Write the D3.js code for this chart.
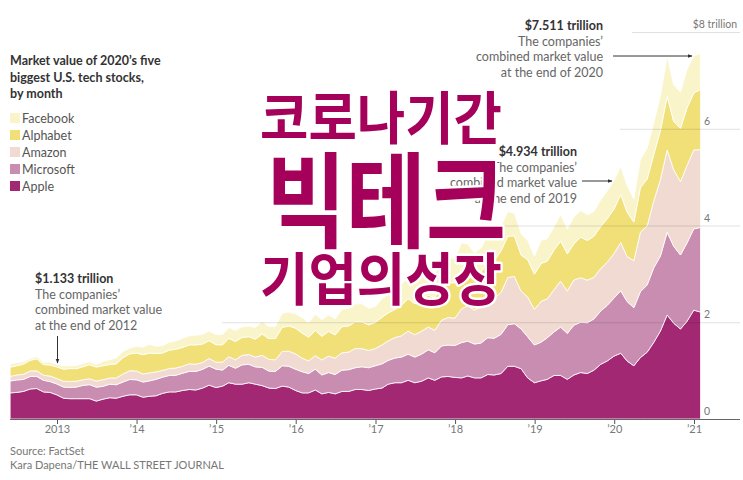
<!DOCTYPE html>
<html>
<head>
<meta charset="utf-8">
<script src="https://cdn.jsdelivr.net/npm/d3@7"></script>
<style>
  body { margin: 0; background: #fff; }
  svg text { font-family: Lato, "Noto Sans", sans-serif; }
  .title-ko { font-family: "Noto Sans CJK KR", sans-serif !important; font-weight: 700; fill: #a5005a;
              stroke: #fff; stroke-width: 5px; paint-order: stroke; stroke-linejoin: round; }
</style>
</head>
<body>
<svg id="drawing_region"></svg>
<script>
// monthly market value, trillions of dollars, end of May 2012 .. end of Jan 2021
const startMonth = new Date(2012, 4, 1);

const apple = [
  0.54,0.55,0.57,0.62,0.63,0.56,0.55,0.50,
  0.43,0.42,0.42,0.42,0.42,0.37,0.41,0.44,0.43,0.47,0.50,0.50,
  0.45,0.47,0.48,0.53,0.56,0.56,0.59,0.61,0.60,0.64,0.70,0.65,
  0.68,0.75,0.72,0.72,0.75,0.72,0.69,0.64,0.63,0.68,0.66,0.59,
  0.54,0.54,0.60,0.52,0.55,0.52,0.57,0.57,0.61,0.61,0.59,0.62,
  0.64,0.72,0.75,0.75,0.80,0.75,0.78,0.85,0.80,0.87,0.88,0.86,
  0.85,0.89,0.85,0.85,0.92,0.91,0.94,1.09,1.09,1.04,0.85,0.75,
  0.79,0.82,0.90,0.90,0.82,0.91,0.96,0.94,1.01,1.13,1.20,1.30,
  1.36,1.20,1.10,1.27,1.38,1.58,1.82,2.15,1.98,1.86,2.02,2.25,
  2.21
];
const microsoft = [
  0.245,0.257,0.248,0.259,0.250,0.240,0.224,0.225,
  0.230,0.233,0.240,0.276,0.290,0.288,0.265,0.280,0.278,0.295,0.316,0.311,
  0.314,0.317,0.340,0.334,0.340,0.344,0.356,0.375,0.383,0.388,0.394,0.381,
  0.332,0.360,0.330,0.400,0.380,0.357,0.378,0.350,0.354,0.420,0.430,0.440,
  0.437,0.400,0.430,0.390,0.410,0.400,0.440,0.450,0.450,0.470,0.470,0.480,
  0.500,0.490,0.510,0.530,0.540,0.530,0.560,0.580,0.570,0.640,0.650,0.660,
  0.730,0.720,0.700,0.720,0.760,0.760,0.810,0.860,0.880,0.820,0.850,0.780,
  0.800,0.860,0.900,1.000,0.950,1.030,1.040,1.050,1.060,1.100,1.150,1.200,
  1.290,1.230,1.200,1.360,1.390,1.540,1.550,1.710,1.590,1.530,1.620,1.680,
  1.750
];
const amazon = [
  0.096,0.103,0.106,0.113,0.115,0.105,0.114,0.114,
  0.120,0.120,0.121,0.115,0.122,0.126,0.137,0.127,0.142,0.166,0.179,0.183,
  0.165,0.166,0.154,0.140,0.144,0.149,0.144,0.157,0.149,0.141,0.156,0.144,
  0.164,0.177,0.173,0.196,0.202,0.203,0.248,0.242,0.240,0.294,0.313,0.317,
  0.278,0.261,0.280,0.311,0.341,0.338,0.358,0.364,0.396,0.374,0.357,0.356,
  0.393,0.404,0.423,0.440,0.476,0.463,0.474,0.470,0.464,0.533,0.568,0.564,
  0.701,0.727,0.701,0.757,0.789,0.822,0.868,0.977,0.977,0.780,0.824,0.735,
  0.844,0.804,0.873,0.948,0.874,0.934,0.920,0.880,0.859,0.879,0.891,0.920,
  1.000,0.930,0.970,1.230,1.220,1.380,1.580,1.700,1.580,1.520,1.600,1.630,
  1.610
];
const alphabet = [
  0.19,0.19,0.21,0.22,0.25,0.22,0.23,0.237,
  0.25,0.27,0.26,0.27,0.29,0.29,0.29,0.28,0.29,0.34,0.35,0.37,
  0.40,0.41,0.38,0.36,0.38,0.39,0.39,0.39,0.40,0.38,0.37,0.36,
  0.36,0.38,0.38,0.37,0.37,0.37,0.44,0.43,0.44,0.50,0.52,0.53,
  0.52,0.49,0.52,0.49,0.51,0.48,0.54,0.54,0.55,0.55,0.53,0.54,
  0.57,0.58,0.58,0.63,0.67,0.64,0.65,0.66,0.67,0.72,0.72,0.73,
  0.82,0.77,0.72,0.71,0.76,0.78,0.86,0.85,0.84,0.75,0.77,0.73,
  0.78,0.78,0.82,0.83,0.77,0.75,0.84,0.82,0.85,0.87,0.90,0.92,
  0.99,0.92,0.80,0.92,0.97,0.96,1.01,1.11,1.00,1.10,1.19,1.18,
  1.24
];
const facebook = [
  0.064,0.067,0.046,0.039,0.047,0.046,0.061,0.057,
  0.068,0.059,0.062,0.068,0.060,0.060,0.090,0.100,0.120,0.130,0.120,0.140,
  0.160,0.180,0.150,0.150,0.160,0.170,0.190,0.190,0.200,0.200,0.200,0.210,
  0.210,0.220,0.230,0.220,0.220,0.240,0.260,0.250,0.250,0.290,0.290,0.300,
  0.320,0.300,0.330,0.340,0.340,0.330,0.360,0.360,0.370,0.380,0.340,0.330,
  0.380,0.390,0.410,0.440,0.440,0.440,0.490,0.500,0.500,0.520,0.510,0.510,
  0.540,0.510,0.460,0.500,0.560,0.560,0.500,0.510,0.470,0.440,0.400,0.370,
  0.480,0.460,0.480,0.550,0.510,0.550,0.550,0.530,0.510,0.550,0.570,0.594,
  0.580,0.550,0.480,0.580,0.640,0.650,0.720,0.820,0.750,0.750,0.790,0.770,
  0.740
];

const companies = ["Apple", "Microsoft", "Amazon", "Alphabet", "Facebook"];
const colors = ["#a32873", "#c98db1", "#f1dad1", "#f1e077", "#faf4cb"];
const legendOrder = ["Facebook", "Alphabet", "Amazon", "Microsoft", "Apple"];
const yTicks = [0, 2, 4, 6, 8];
const yTickLabels = ["0", "2", "4", "6", "$8 trillion"];
const xTickYears = [2013, 2014, 2015, 2016, 2017, 2018, 2019, 2020, 2021];
const xTickLabels = ["2013", "\u201914", "\u201915", "\u201916", "\u201917", "\u201918", "\u201919", "\u201920", "\u201921"];

const seriesValues = { Apple: apple, Microsoft: microsoft, Amazon: amazon, Alphabet: alphabet, Facebook: facebook };

// table for d3.stack, one row per month (value at month end)
const table = apple.map((v, i) => {
  const row = { date: d3.timeDay.offset(d3.timeMonth.offset(startMonth, i + 1), -1) };
  companies.forEach(c => { row[c] = seriesValues[c][i]; });
  return row;
});

const W = 743, H = 480;
const svg = d3.select('#drawing_region').attr('width', W).attr('height', H);

const x = d3.scaleTime()
  .domain([new Date(2013, 0, 1), new Date(2021, 0, 1)])
  .range([57, 694]);
const y = d3.scaleLinear().domain([0, 8]).range([419, 32]);
const color = d3.scaleOrdinal().domain(companies).range(colors);

const stack = d3.stack().keys(companies);
const layers = stack(table);

const area = d3.area()
  .x(d => x(d.data.date))
  .y0(d => y(d[0]))
  .y1(d => y(d[1]));

svg.append('g')
  .selectAll('path')
  .data(layers)
  .join('path')
  .attr('d', area)
  .attr('fill', d => color(d.key))
  .attr('stroke', '#fff')
  .attr('stroke-width', 0.8)
  .attr('stroke-linejoin', 'round');

// gridlines (drawn over the areas, faint)
const gridStart = { 2: 222, 4: 505, 6: 620, 8: 632 };
svg.append('g')
  .selectAll('line')
  .data(yTicks.filter(t => t > 0))
  .join('line')
  .attr('x1', d => gridStart[d])
  .attr('x2', 740)
  .attr('y1', d => y(d) + 0.5)
  .attr('y2', d => y(d) + 0.5)
  .attr('stroke', '#000')
  .attr('stroke-opacity', 0.12);

// y labels
svg.append('g')
  .selectAll('text')
  .data(yTicks)
  .join('text')
  .attr('x', (d, i) => i === yTicks.length - 1 ? 737 : 704)
  .attr('y', d => y(d) - 4)
  .attr('text-anchor', (d, i) => i === yTicks.length - 1 ? 'end' : 'start')
  .attr('font-size', 10.5)
  .attr('fill', '#777')
  .text((d, i) => yTickLabels[i]);

// x axis
const xAxis = d3.axisBottom(x)
  .tickValues(xTickYears.map(yr => new Date(yr, 0, 1)))
  .tickFormat((d, i) => xTickLabels[i])
  .tickSize(5)
  .tickSizeOuter(0);

const gx = svg.append('g').attr('transform', 'translate(0,419)').call(xAxis);
gx.select('.domain').remove();
gx.selectAll('.tick line').attr('stroke', '#555');
gx.selectAll('.tick text')
  .attr('font-family', 'Lato, sans-serif')
  .attr('font-size', 11)
  .attr('fill', '#777')
  .attr('dy', '0.75em')
  .attr('y', 6);
svg.append('line')
  .attr('x1', 10).attr('x2', 740)
  .attr('y1', 419.5).attr('y2', 419.5)
  .attr('stroke', '#666');

// legend
const legTitle = ["Market value of 2020\u2019s five", "biggest U.S. tech stocks,", "by month"];
svg.append('g')
  .selectAll('text')
  .data(legTitle)
  .join('text')
  .attr('x', 10)
  .attr('y', (d, i) => 65 + i * 16.5)
  .attr('font-size', 12.5)
  .attr('font-weight', 700)
  .attr('fill', '#333')
  .text(d => d);

const leg = svg.append('g')
  .selectAll('g')
  .data(legendOrder)
  .join('g')
  .attr('transform', (d, i) => `translate(10, ${113 + i * 17})`);
leg.append('rect')
  .attr('width', 10).attr('height', 10)
  .attr('fill', d => color(d));
leg.append('text')
  .attr('x', 12).attr('y', 9.5)
  .attr('font-size', 12.5)
  .attr('fill', '#555')
  .text(d => d);

// annotations
function note(xPos, yPos, anchor, head, lines) {
  const g = svg.append('g');
  g.append('text')
    .attr('x', xPos).attr('y', yPos)
    .attr('text-anchor', anchor)
    .attr('font-size', 12.5)
    .attr('font-weight', 700)
    .attr('fill', '#333')
    .text(head);
  lines.forEach((t, i) => {
    g.append('text')
      .attr('x', xPos).attr('y', yPos + 15.7 * (i + 1))
      .attr('text-anchor', anchor)
      .attr('font-size', 12.5)
      .attr('fill', '#666')
      .text(t);
  });
}
note(603, 30, 'end', '$7.511 trillion', ['The companies\u2019', 'combined market value', 'at the end of 2020']);
note(577, 156, 'end', '$4.934 trillion', ['The companies\u2019', 'combined market value', 'at the end of 2019']);
note(35, 283, 'start', '$1.133 trillion', ['The companies\u2019', 'combined market value', 'at the end of 2012']);

svg.append('defs').append('marker')
  .attr('id', 'arrow')
  .attr('viewBox', '0 0 10 10')
  .attr('refX', 9).attr('refY', 5)
  .attr('markerWidth', 5).attr('markerHeight', 5)
  .attr('orient', 'auto')
  .append('path')
  .attr('d', 'M0,1 L10,5 L0,9 Z')
  .attr('fill', '#333');

const arrows = [
  [613, 56, 692, 56],
  [582, 181, 612, 181],
  [57.5, 336, 57.5, 363]
];
svg.append('g')
  .selectAll('line')
  .data(arrows)
  .join('line')
  .attr('x1', d => d[0]).attr('y1', d => d[1])
  .attr('x2', d => d[2]).attr('y2', d => d[3])
  .attr('stroke', '#333')
  .attr('stroke-width', 1)
  .attr('marker-end', 'url(#arrow)');

// source
svg.append('text')
  .attr('x', 10).attr('y', 455)
  .attr('font-size', 11).attr('fill', '#777')
  .text('Source: FactSet');
svg.append('text')
  .attr('x', 10).attr('y', 469)
  .attr('font-size', 11).attr('fill', '#777')
  .text('Kara Dapena/THE WALL STREET JOURNAL');

// Korean title overlay
const titleLines = [
  { text: '코로나기간', x: 260, y: 139, size: 57, len: 242 },
  { text: '빅테크', x: 266, y: 240, size: 104, len: 240 },
  { text: '기업의성장', x: 260, y: 300, size: 57, len: 242 }
];
svg.append('g')
  .selectAll('text')
  .data(titleLines)
  .join('text')
  .attr('class', 'title-ko')
  .attr('x', d => d.x).attr('y', d => d.y)
  .attr('font-size', d => d.size)
  .attr('textLength', d => d.len)
  .attr('lengthAdjust', 'spacingAndGlyphs')
  .text(d => d.text);
</script>
</body>
</html>
